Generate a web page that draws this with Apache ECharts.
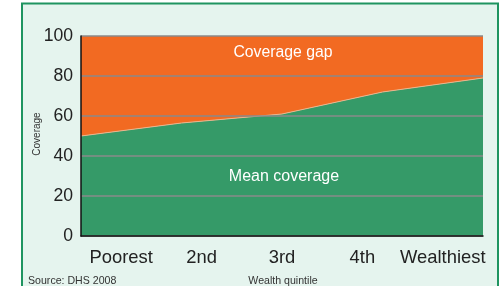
<!DOCTYPE html>
<html><head><meta charset="utf-8">
<script src="https://cdn.jsdelivr.net/npm/echarts@6/dist/echarts.min.js"></script>
<style>html,body{margin:0;padding:0;background:#fff}#c{width:501px;height:286px}</style>
</head><body><div id="c"></div>
<script>
const categories = ['Poorest', '2nd', '3rd', '4th', 'Wealthiest'];
const meanCoverage = [50, 56.5, 61, 72, 79];
const yTicks = [0, 20, 40, 60, 80, 100];
const gap = meanCoverage.map(v => 100 - v);

const chart = echarts.init(document.getElementById('c'), null, {renderer: 'canvas'});
const font = 'Liberation Sans, Arial, sans-serif';
chart.setOption({
  animation: false,
  backgroundColor: '#ffffff',
  graphic: [
    {type: 'rect', z: -10, silent: true, shape: {x: 22, y: 3.5, width: 476, height: 290},
     style: {fill: '#e5f4ee', stroke: '#1f9460', lineWidth: 2}},
    {type: 'text', x: 28, y: 281, style: {text: 'Source: DHS 2008', font: '10.6px ' + font, fill: '#333', verticalAlign: 'middle'}},
    {type: 'text', x: 283, y: 281, style: {text: 'Wealth quintile', font: '10.6px ' + font, fill: '#333', align: 'center', verticalAlign: 'middle'}},
    {type: 'text', x: 37, y: 134, rotation: Math.PI / 2, style: {text: 'Coverage', font: '10px ' + font, fill: '#333', align: 'center', verticalAlign: 'middle'}},
    {type: 'text', x: 283, y: 53, z: 20, style: {text: 'Coverage gap', font: '15.8px ' + font, fill: '#ffffff', align: 'center', verticalAlign: 'middle'}},
    {type: 'text', x: 284, y: 177, z: 20, style: {text: 'Mean coverage', font: '16px ' + font, fill: '#ffffff', align: 'center', verticalAlign: 'middle'}}
  ],
  grid: {left: 81, right: 18, top: 36, bottom: 50},
  xAxis: [
    {type: 'category', data: categories, boundaryGap: false, show: false},
    {type: 'category', data: categories, boundaryGap: true, position: 'bottom', z: 10,
     axisLine: {show: true, lineStyle: {color: '#111', width: 1.5}},
     axisTick: {show: false},
     axisLabel: {interval: 0, fontSize: 18.4, fontFamily: font, color: '#222', margin: 13}}
  ],
  yAxis: {
    type: 'value', min: 0, max: 100, interval: 20, z: 10,
    axisLine: {show: true, lineStyle: {color: '#111', width: 1.5}},
    axisTick: {show: false},
    axisLabel: {fontSize: 17.6, fontFamily: font, color: '#222', margin: 8,
      formatter: v => yTicks.includes(v) ? String(v) : ''},
    splitLine: {show: true, lineStyle: {color: '#8a8a8a', width: 1.5}}
  },
  series: [
    {name: 'Mean coverage', type: 'line', stack: 'a', data: meanCoverage, xAxisIndex: 0,
     symbol: 'none', lineStyle: {width: 0}, areaStyle: {color: '#359a68', opacity: 1}},
    {name: 'Coverage gap', type: 'line', stack: 'a', data: gap, xAxisIndex: 0,
     symbol: 'none', lineStyle: {width: 0}, areaStyle: {color: '#f26a22', opacity: 1}},
    {name: 'edge', type: 'line', data: meanCoverage, xAxisIndex: 0, z: 5,
     symbol: 'none', lineStyle: {width: 1, color: '#e9b58e'}}
  ]
});
</script></body></html>
